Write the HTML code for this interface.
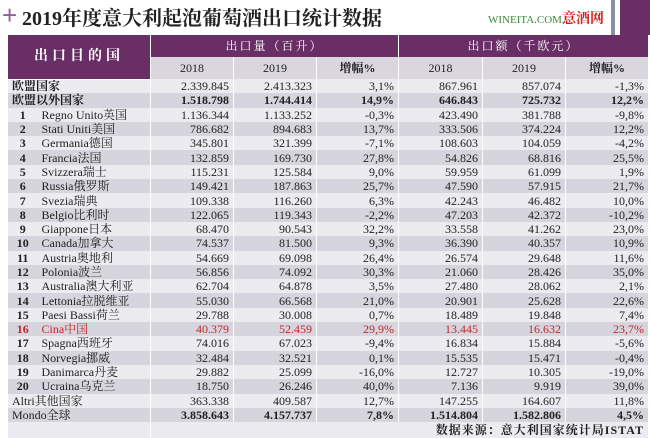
<!DOCTYPE html>
<html><head><meta charset="utf-8"><style>
body{margin:0;width:650px;height:438px;background:#fff;overflow:hidden;position:relative;font-family:"Liberation Serif","Noto Serif CJK SC",serif;}
.t{position:absolute;}
table{position:absolute;left:7px;top:35px;border-collapse:collapse;table-layout:fixed;width:641px;}
td{padding:0 4px;font-size:12px;line-height:12px;height:14.3px;box-sizing:border-box;border:1px solid #fff;border-top:none;border-bottom:none;white-space:nowrap;overflow:hidden;color:#222;}
td.n{text-align:right;}
tr.l td{background:#ecebf0;}
tr.g td{background:#d6d4dc;}
tr.red td{color:#c0282c;}
.h td{background:#6a2e66;color:#fff;text-align:center;font-weight:bold;letter-spacing:2px;font-size:12px;}
.y td{background:#d9d6de;text-align:center;height:22px;}
td.num{text-align:center;font-weight:bold;font-size:12px;border-right:none;}
td.nm{border-left:none;}
b{font-weight:bold;}
</style></head><body>
<div class="t" style="left:2px;top:0;font-size:26px;color:#9b5aa0;font-family:'Liberation Sans',sans-serif;line-height:30px;">+</div>
<div class="t" style="left:22px;top:6px;font-size:20px;font-weight:bold;color:#222;line-height:26px;">2019年度意大利起泡葡萄酒出口统计数据</div>
<div class="t" style="left:488px;top:12px;font-size:11px;color:#3a8a3a;line-height:16px;">WINEITA.COM<span style="color:#d02020;font-size:14px;font-weight:bold;">意酒网</span></div>
<div class="t" style="left:611px;top:0;width:4px;height:35px;background:#8a90a8;"></div>
<div class="t" style="left:620px;top:0;width:30px;height:35px;background:#6a2e66;"></div>
<table>
<colgroup><col style="width:30px"><col style="width:113px"><col style="width:83px"><col style="width:83px"><col style="width:82px"><col style="width:84px"><col style="width:83px"><col style="width:83px"></colgroup>
<tr class="h"><td colspan="2" rowspan="2" style="height:44px;font-size:14px;letter-spacing:4px;border-bottom:1px solid #fff">出口目的国</td><td colspan="3" style="height:22px;font-weight:normal">出口量（百升）</td><td colspan="3" style="font-weight:normal">出口额（千欧元）</td></tr>
<tr class="y"><td>2018</td><td>2019</td><td><b>增幅%</b></td><td>2018</td><td>2019</td><td><b>增幅%</b></td></tr>
<tr class="l"><td colspan="2"><b>欧盟国家</b></td><td class="n">2.339.845</td><td class="n">2.413.323</td><td class="n">3,1%</td><td class="n">867.961</td><td class="n">857.074</td><td class="n">-1,3%</td></tr>
<tr class="g"><td colspan="2"><b>欧盟以外国家</b></td><td class="n"><b>1.518.798</b></td><td class="n"><b>1.744.414</b></td><td class="n"><b>14,9%</b></td><td class="n"><b>646.843</b></td><td class="n"><b>725.732</b></td><td class="n"><b>12,2%</b></td></tr>
<tr class="l"><td class="num">1</td><td class="nm">Regno Unito英国</td><td class="n">1.136.344</td><td class="n">1.133.252</td><td class="n">-0,3%</td><td class="n">423.490</td><td class="n">381.788</td><td class="n">-9,8%</td></tr>
<tr class="g"><td class="num">2</td><td class="nm">Stati Uniti美国</td><td class="n">786.682</td><td class="n">894.683</td><td class="n">13,7%</td><td class="n">333.506</td><td class="n">374.224</td><td class="n">12,2%</td></tr>
<tr class="l"><td class="num">3</td><td class="nm">Germania德国</td><td class="n">345.801</td><td class="n">321.399</td><td class="n">-7,1%</td><td class="n">108.603</td><td class="n">104.059</td><td class="n">-4,2%</td></tr>
<tr class="g"><td class="num">4</td><td class="nm">Francia法国</td><td class="n">132.859</td><td class="n">169.730</td><td class="n">27,8%</td><td class="n">54.826</td><td class="n">68.816</td><td class="n">25,5%</td></tr>
<tr class="l"><td class="num">5</td><td class="nm">Svizzera瑞士</td><td class="n">115.231</td><td class="n">125.584</td><td class="n">9,0%</td><td class="n">59.959</td><td class="n">61.099</td><td class="n">1,9%</td></tr>
<tr class="g"><td class="num">6</td><td class="nm">Russia俄罗斯</td><td class="n">149.421</td><td class="n">187.863</td><td class="n">25,7%</td><td class="n">47.590</td><td class="n">57.915</td><td class="n">21,7%</td></tr>
<tr class="l"><td class="num">7</td><td class="nm">Svezia瑞典</td><td class="n">109.338</td><td class="n">116.260</td><td class="n">6,3%</td><td class="n">42.243</td><td class="n">46.482</td><td class="n">10,0%</td></tr>
<tr class="g"><td class="num">8</td><td class="nm">Belgio比利时</td><td class="n">122.065</td><td class="n">119.343</td><td class="n">-2,2%</td><td class="n">47.203</td><td class="n">42.372</td><td class="n">-10,2%</td></tr>
<tr class="l"><td class="num">9</td><td class="nm">Giappone日本</td><td class="n">68.470</td><td class="n">90.543</td><td class="n">32,2%</td><td class="n">33.558</td><td class="n">41.262</td><td class="n">23,0%</td></tr>
<tr class="g"><td class="num">10</td><td class="nm">Canada加拿大</td><td class="n">74.537</td><td class="n">81.500</td><td class="n">9,3%</td><td class="n">36.390</td><td class="n">40.357</td><td class="n">10,9%</td></tr>
<tr class="l"><td class="num">11</td><td class="nm">Austria奥地利</td><td class="n">54.669</td><td class="n">69.098</td><td class="n">26,4%</td><td class="n">26.574</td><td class="n">29.648</td><td class="n">11,6%</td></tr>
<tr class="g"><td class="num">12</td><td class="nm">Polonia波兰</td><td class="n">56.856</td><td class="n">74.092</td><td class="n">30,3%</td><td class="n">21.060</td><td class="n">28.426</td><td class="n">35,0%</td></tr>
<tr class="l"><td class="num">13</td><td class="nm">Australia澳大利亚</td><td class="n">62.704</td><td class="n">64.878</td><td class="n">3,5%</td><td class="n">27.480</td><td class="n">28.062</td><td class="n">2,1%</td></tr>
<tr class="g"><td class="num">14</td><td class="nm">Lettonia拉脱维亚</td><td class="n">55.030</td><td class="n">66.568</td><td class="n">21,0%</td><td class="n">20.901</td><td class="n">25.628</td><td class="n">22,6%</td></tr>
<tr class="l"><td class="num">15</td><td class="nm">Paesi Bassi荷兰</td><td class="n">29.788</td><td class="n">30.008</td><td class="n">0,7%</td><td class="n">18.489</td><td class="n">19.848</td><td class="n">7,4%</td></tr>
<tr class="g red"><td class="num">16</td><td class="nm">Cina中国</td><td class="n">40.379</td><td class="n">52.459</td><td class="n">29,9%</td><td class="n">13.445</td><td class="n">16.632</td><td class="n">23,7%</td></tr>
<tr class="l"><td class="num">17</td><td class="nm">Spagna西班牙</td><td class="n">74.016</td><td class="n">67.023</td><td class="n">-9,4%</td><td class="n">16.834</td><td class="n">15.884</td><td class="n">-5,6%</td></tr>
<tr class="g"><td class="num">18</td><td class="nm">Norvegia挪威</td><td class="n">32.484</td><td class="n">32.521</td><td class="n">0,1%</td><td class="n">15.535</td><td class="n">15.471</td><td class="n">-0,4%</td></tr>
<tr class="l"><td class="num">19</td><td class="nm">Danimarca丹麦</td><td class="n">29.882</td><td class="n">25.099</td><td class="n">-16,0%</td><td class="n">12.727</td><td class="n">10.305</td><td class="n">-19,0%</td></tr>
<tr class="g"><td class="num">20</td><td class="nm">Ucraina乌克兰</td><td class="n">18.750</td><td class="n">26.246</td><td class="n">40,0%</td><td class="n">7.136</td><td class="n">9.919</td><td class="n">39,0%</td></tr>
<tr class="l"><td colspan="2">Altri其他国家</td><td class="n">363.338</td><td class="n">409.587</td><td class="n">12,7%</td><td class="n">147.255</td><td class="n">164.607</td><td class="n">11,8%</td></tr>
<tr class="g"><td colspan="2">Mondo全球</td><td class="n"><b>3.858.643</b></td><td class="n"><b>4.157.737</b></td><td class="n"><b>7,8%</b></td><td class="n"><b>1.514.804</b></td><td class="n"><b>1.582.806</b></td><td class="n"><b>4,5%</b></td></tr>
<tr class="l"><td colspan="2" style="height:16px"></td><td colspan="6" class="n" style="font-weight:bold;letter-spacing:1px">数据来源：意大利国家统计局ISTAT</td></tr>
</table>
</body></html>
